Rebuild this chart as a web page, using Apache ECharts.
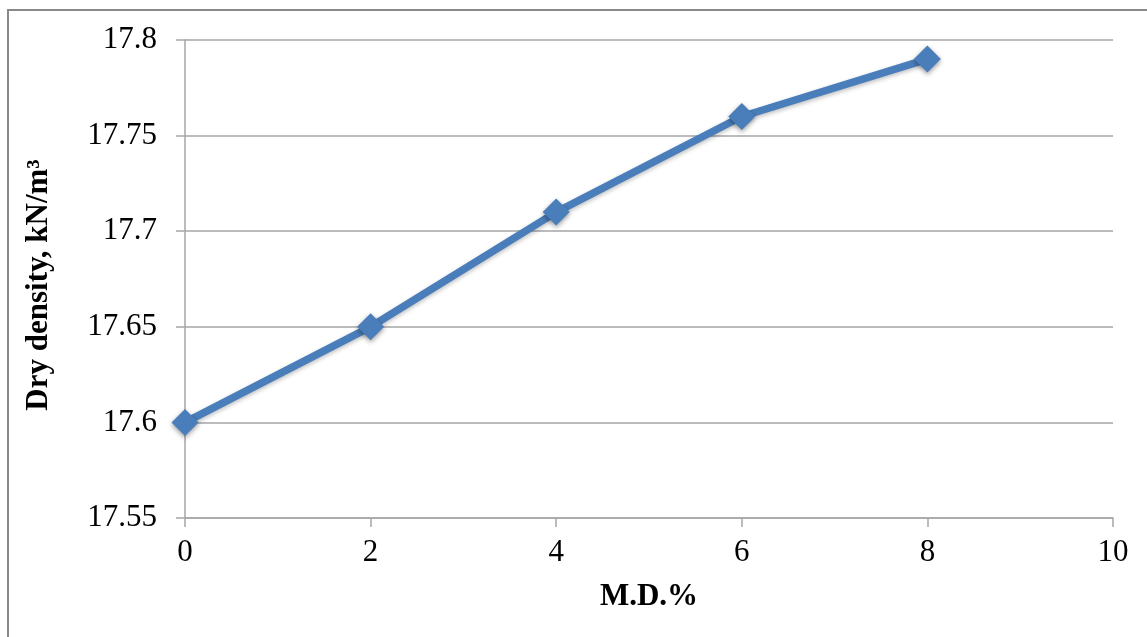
<!DOCTYPE html>
<html>
<head>
<meta charset="utf-8">
<script src="https://cdn.jsdelivr.net/npm/echarts@6/dist/echarts.min.js"></script>
<style>
html,body{margin:0;padding:0;background:#fff;}
#chart{width:1147px;height:637px;}
</style>
</head>
<body>
<div id="chart"></div>
<script>
const mdPercent = [0, 2, 4, 6, 8];
const dryDensity = [17.6, 17.65, 17.71, 17.76, 17.79];
const yTicks = [17.55, 17.6, 17.65, 17.7, 17.75, 17.8];
const xTicks = [0, 2, 4, 6, 8, 10];

const chart = echarts.init(document.getElementById('chart'));
const font = '"Liberation Serif", "Times New Roman", serif';
chart.setOption({
  animation: false,
  backgroundColor: '#fff',
  graphic: [{
    type: 'rect',
    shape: { x: 8, y: 10, width: 1300, height: 800 },
    style: { fill: 'none', stroke: '#898989', lineWidth: 2 },
    silent: true, z: -1
  }],
  grid: { left: 185, right: 34, top: 40, bottom: 119 },
  xAxis: {
    type: 'value',
    min: xTicks[0], max: xTicks[xTicks.length - 1], interval: 2,
    name: 'M.D.%',
    nameLocation: 'middle', nameGap: 63,
    nameTextStyle: { fontFamily: font, fontWeight: 'bold', fontSize: 31, color: '#000' },
    axisLine: { show: true, lineStyle: { color: '#a6a6a6', width: 1.5 } },
    axisTick: { show: true, length: 9, lineStyle: { color: '#a6a6a6', width: 1.5 } },
    axisLabel: { fontFamily: font, fontSize: 31, color: '#000', margin: 19 },
    splitLine: { show: false }
  },
  yAxis: {
    type: 'value',
    min: yTicks[0], max: yTicks[yTicks.length - 1], interval: 0.05,
    name: 'Dry density, kN/m³',
    nameLocation: 'middle', nameGap: 131,
    nameTextStyle: { fontFamily: font, fontWeight: 'bold', fontSize: 31, color: '#000', padding: [0, 12, 0, 0] },
    axisLine: { show: true, lineStyle: { color: '#a6a6a6', width: 1.5 } },
    axisTick: { show: true, length: 9, lineStyle: { color: '#a6a6a6', width: 1.5 } },
    axisLabel: {
      fontFamily: font, fontSize: 31, color: '#000', margin: 28,
      formatter: v => String(parseFloat(v.toFixed(2)))
    },
    splitLine: { show: true, lineStyle: { color: '#a6a6a6', width: 1.5 } }
  },
  series: [{
    type: 'line',
    data: mdPercent.map((x, i) => [x, dryDensity[i]]),
    symbol: 'diamond',
    symbolSize: 27,
    lineStyle: { color: '#4a7ebb', width: 7.5, shadowColor: 'rgba(0,0,0,0.25)', shadowBlur: 4, shadowOffsetY: 2 },
    itemStyle: { color: '#4a7ebb', shadowColor: 'rgba(0,0,0,0.4)', shadowBlur: 5, shadowOffsetY: 2 }
  }]
});
</script>
</body>
</html>
